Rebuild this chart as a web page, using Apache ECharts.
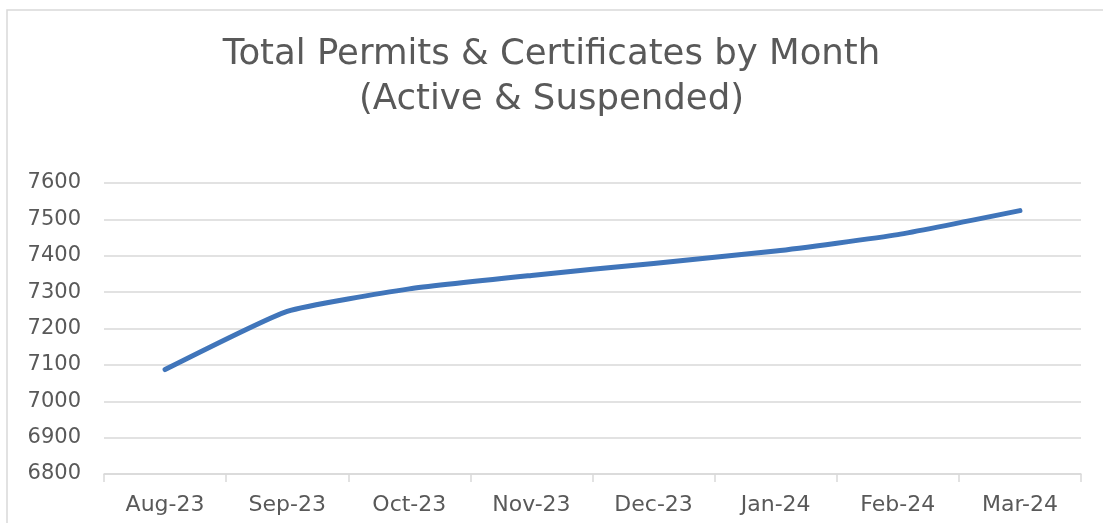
<!DOCTYPE html>
<html>
<head>
<meta charset="utf-8">
<script src="https://cdn.jsdelivr.net/npm/echarts@6/dist/echarts.min.js"></script>
<style>
  html, body { margin: 0; padding: 0; background: #fff; }
  #chart { width: 1103px; height: 523px; }
</style>
</head>
<body>
<div id="chart"></div>
<script>
// data
const months = ['Aug-23', 'Sep-23', 'Oct-23', 'Nov-23', 'Dec-23', 'Jan-24', 'Feb-24', 'Mar-24'];
const totals = [7087, 7247, 7309, 7346, 7379, 7413, 7458, 7524];
const yTicks = [6800, 6900, 7000, 7100, 7200, 7300, 7400, 7500, 7600];

const chart = echarts.init(document.getElementById('chart'), null, { renderer: 'canvas' });

const textColor = '#595959';
const gridColor = '#d9d9d9';
const font = 'DejaVu Sans';

chart.setOption({
  animation: false,
  title: {
    text: 'Total Permits & Certificates by Month\n(Active & Suspended)',
    left: 'center',
    top: 27,
    textStyle: {
      fontFamily: font,
      fontSize: 35.5,
      fontWeight: 'normal',
      color: textColor,
      lineHeight: 45
    }
  },
  // outer chart frame (right/bottom edges fall outside the picture)
  graphic: [{
    type: 'rect',
    shape: { x: 7, y: 10, width: 1200, height: 600 },
    style: { fill: 'none', stroke: gridColor, lineWidth: 1.5 },
    silent: true
  }],
  grid: { left: 104, right: 22, top: 183, bottom: 49 },
  xAxis: {
    type: 'category',
    data: months,
    boundaryGap: true,
    axisLine: { lineStyle: { color: gridColor, width: 1.5 } },
    axisTick: { show: true, length: 8, lineStyle: { color: gridColor, width: 1.5 } },
    axisLabel: { color: textColor, fontFamily: font, fontSize: 22, margin: 20 }
  },
  yAxis: {
    type: 'value',
    min: yTicks[0],
    max: yTicks[yTicks.length - 1],
    interval: 100,
    axisLine: { show: false },
    axisTick: { show: false },
    splitLine: { lineStyle: { color: gridColor, width: 1.5 } },
    axisLabel: {
      color: textColor, fontFamily: font, fontSize: 21, margin: 23,
      formatter: (v) => String(v)
    }
  },
  series: [{
    name: 'Total',
    type: 'line',
    data: totals,
    smooth: 0.15,
    showSymbol: false,
    lineStyle: { color: '#4075BA', width: 5, cap: 'round', join: 'round' }
  }]
});
</script>
</body>
</html>
